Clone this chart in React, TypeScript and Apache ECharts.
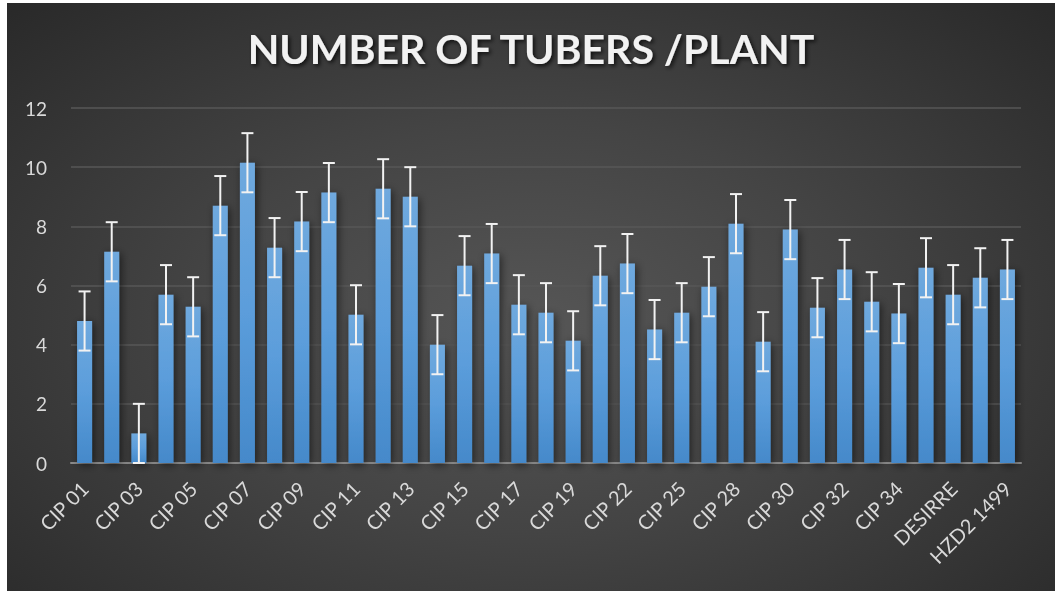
import React, { useEffect, useRef } from "react";
import * as echarts from "echarts";

const categories = [
  "CIP 01", "CIP 02", "CIP 03", "CIP 04", "CIP 05", "CIP 06", "CIP 07", "CIP 08", "CIP 09", "CIP 10",
  "CIP 11", "CIP 12", "CIP 13", "CIP 14", "CIP 15", "CIP 16", "CIP 17", "CIP 18", "CIP 19", "CIP 20",
  "CIP 22", "CIP 24", "CIP 25", "CIP 26", "CIP 28", "CIP 29", "CIP 30", "CIP 31", "CIP 32", "CIP 33",
  "CIP 34", "CIP 35", "DESIRRE", "SHANGI", "HZD2 1499",
];

const tubers = [
  4.8, 7.14, 1.0, 5.69, 5.28, 8.7, 10.15, 7.28, 8.16, 9.14,
  5.01, 9.27, 9.0, 4.0, 6.67, 7.08, 5.35, 5.08, 4.13, 6.33,
  6.74, 4.51, 5.08, 5.96, 8.09, 4.1, 7.89, 5.25, 6.54, 5.45,
  5.05, 6.6, 5.69, 6.26, 6.54,
];

const errors = [
  1, 1, 1, 1, 1, 1, 1, 1, 1, 1,
  1, 1, 1, 1, 1, 1, 1, 1, 1, 1,
  1, 1, 1, 1, 1, 1, 1, 1, 1, 1,
  1, 1, 1, 1, 1,
];

const yTicks = [0, 2, 4, 6, 8, 10, 12];

export default function App() {
  const ref = useRef<HTMLDivElement>(null);

  useEffect(() => {
    if (!ref.current) return;
    const chart = echarts.init(ref.current, null, { renderer: "svg" });
    const errData = tubers.map((v, i) => [i, Math.max(0, v - errors[i]), v + errors[i]]);
    chart.setOption({
      animation: false,
      backgroundColor: "transparent",
      title: {
        text: "NUMBER OF TUBERS /PLANT",
        left: "center",
        top: 20,
        textStyle: {
          fontFamily: "Lato",
          fontWeight: "bold",
          fontSize: 41,
          color: "#f2f2f2",
          textShadowColor: "rgba(0,0,0,0.75)",
          textShadowBlur: 4,
          textShadowOffsetX: 2,
          textShadowOffsetY: 2,
        },
      },
      grid: { left: 64, right: 34, top: 105, bottom: 128, containLabel: false },
      xAxis: {
        type: "category",
        data: categories,
        axisLine: { lineStyle: { color: "#8c8c8c", width: 2 } },
        axisTick: { show: false },
        axisLabel: {
          interval: 1,
          rotate: 45,
          color: "#d9d9d9",
          fontFamily: "Lato",
          fontSize: 20,
          margin: 22,
        },
      },
      yAxis: {
        type: "value",
        min: yTicks[0],
        max: yTicks[yTicks.length - 1],
        interval: 2,
        axisLine: { show: false },
        axisTick: { show: false },
        splitLine: { lineStyle: { color: "#575757", width: 1.5 } },
        axisLabel: {
          color: "#d9d9d9",
          fontFamily: "Lato",
          fontSize: 19,
          margin: 24,
        },
      },
      series: [
        {
          type: "bar",
          data: tubers,
          barWidth: 15,
          itemStyle: {
            color: new echarts.graphic.LinearGradient(0, 0, 0, 1, [
              { offset: 0, color: "#6fa9de" },
              { offset: 0.5, color: "#5b9ddb" },
              { offset: 1, color: "#4589ca" },
            ]),
            shadowBlur: 8,
            shadowColor: "rgba(0,0,0,0.55)",
            shadowOffsetX: 2,
            shadowOffsetY: 2,
          },
          z: 2,
        },
        {
          type: "custom",
          data: errData,
          encode: { x: 0, y: [1, 2] },
          z: 5,
          renderItem: (params: any, api: any) => {
            const x = api.value(0);
            const lo = api.coord([x, api.value(1)]);
            const hi = api.coord([x, api.value(2)]);
            const cx = lo[0];
            const half = 6;
            const style = { stroke: "#f2f2f2", lineWidth: 2 };
            return {
              type: "group",
              children: [
                { type: "line", shape: { x1: cx, y1: lo[1], x2: cx, y2: hi[1] }, style },
                { type: "line", shape: { x1: cx - half, y1: hi[1], x2: cx + half, y2: hi[1] }, style },
                { type: "line", shape: { x1: cx - half, y1: lo[1], x2: cx + half, y2: lo[1] }, style },
              ],
            };
          },
        },
      ],
    });
    return () => chart.dispose();
  }, []);

  return (
    <div
      style={{
        position: "fixed",
        left: 7,
        top: 3,
        width: 1048,
        height: 588,
        background: "radial-gradient(ellipse at 50% 55%, #565656 0%, #444444 45%, #292929 100%)",
      }}
    >
      <div ref={ref} style={{ width: 1048, height: 588 }} />
    </div>
  );
}
